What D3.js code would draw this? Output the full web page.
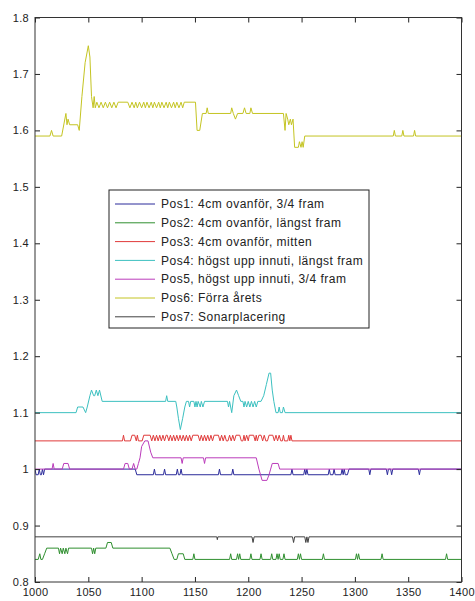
<!DOCTYPE html>
<html>
<head>
<meta charset="utf-8">
<script src="https://cdn.jsdelivr.net/npm/d3@7"></script>
<style>
  html, body { margin: 0; padding: 0; background: #fff; }
  svg { display: block; }
  text { font-family: "Liberation Sans", Arial, Helvetica, sans-serif; }
</style>
</head>
<body>
<svg id="chart" width="475" height="601"></svg>
<script>
// ---- series values: [x, value] breakpoints of each measured position ----
const pos1 = [[1000,1.0],[1001,0.99],[1003,0.99],[1004,1.0],[1005,0.99],[1006,0.99],[1007,1.0],[1008,0.99],[1009,1.0],[1094,1.0],[1095.5,0.99],[1111,0.99],[1112,1.0],[1113,0.99],[1120.5,0.99],[1121.5,1.0],[1122.5,0.99],[1132.5,0.99],[1133.5,1.0],[1134.5,0.99],[1136,0.99],[1137,1.0],[1138,0.99],[1172,0.99],[1173,1.0],[1174,0.99],[1184.5,0.99],[1185.5,1.0],[1186.5,0.99],[1240,0.99],[1241,1.0],[1242,0.99],[1252,0.99],[1253,1.0],[1254,0.99],[1255,1.0],[1256,0.99],[1275,0.99],[1276,1.0],[1277,0.99],[1279.5,0.99],[1280.5,1.0],[1281.5,0.99],[1287,0.99],[1288,1.0],[1289,0.99],[1290,1.0],[1291,0.99],[1293,0.99],[1294.5,1.0],[1313,1.0],[1314,0.99],[1315,1.0],[1329.5,1.0],[1330.5,0.99],[1331.5,1.0],[1333.5,1.0],[1334.5,0.99],[1335.5,1.0],[1359.5,1.0],[1360.5,0.99],[1361.5,1.0],[1400,1.0]];

const pos2 = [[1000,0.84],[1003,0.84],[1004.5,0.85],[1005.5,0.84],[1007,0.84],[1009,0.85],[1011,0.86],[1022,0.86],[1023,0.85],[1024,0.86],[1025.5,0.85],[1026.5,0.86],[1028,0.85],[1029,0.86],[1030.5,0.85],[1031.5,0.86],[1053,0.86],[1054,0.85],[1055,0.86],[1056,0.85],[1057,0.86],[1066.5,0.86],[1068,0.87],[1071.5,0.87],[1073,0.86],[1126.5,0.86],[1128.5,0.85],[1130.5,0.84],[1133,0.84],[1134.5,0.85],[1139,0.85],[1140.5,0.84],[1148,0.84],[1149,0.85],[1150,0.84],[1182.5,0.84],[1183.5,0.85],[1184.5,0.84],[1189,0.84],[1190,0.85],[1191,0.84],[1192,0.85],[1193,0.84],[1201.5,0.84],[1202.5,0.85],[1203.5,0.84],[1211,0.84],[1212,0.85],[1213,0.84],[1221,0.84],[1222,0.85],[1223,0.84],[1226,0.84],[1227,0.85],[1228,0.84],[1229,0.85],[1230,0.84],[1232.5,0.84],[1233.5,0.85],[1234.5,0.84],[1246,0.84],[1247,0.85],[1248,0.84],[1249,0.85],[1250,0.84],[1269.5,0.84],[1270.5,0.85],[1271.5,0.84],[1300.5,0.84],[1301.5,0.85],[1302.5,0.84],[1303.5,0.85],[1304.5,0.84],[1324.5,0.84],[1325.5,0.85],[1326.5,0.84],[1385,0.84],[1386,0.85],[1387,0.84],[1400,0.84]];

const pos3 = [[1000,1.05],[1082,1.05],[1083,1.06],[1084,1.05],[1089.5,1.05],[1091,1.06],[1093.5,1.06],[1095,1.05],[1096,1.06],[1097,1.05],[1100.5,1.05],[1102,1.06],[1108,1.06],[1109.5,1.05],[1111,1.06],[1112.5,1.05],[1114,1.06],[1115.5,1.05],[1117,1.06],[1118.5,1.05],[1120,1.06],[1121.5,1.05],[1123,1.06],[1124,1.06],[1125.5,1.05],[1127,1.06],[1128.5,1.05],[1130,1.06],[1131.5,1.05],[1133,1.06],[1134.5,1.05],[1136,1.06],[1137.5,1.05],[1139,1.06],[1140.5,1.05],[1142,1.06],[1143.5,1.05],[1145,1.06],[1146.5,1.05],[1148,1.06],[1153,1.06],[1154.5,1.05],[1156,1.06],[1157.5,1.05],[1159,1.06],[1160.5,1.05],[1162,1.06],[1163.5,1.05],[1165,1.06],[1166.5,1.05],[1168,1.06],[1172,1.06],[1173.5,1.05],[1175,1.06],[1176.5,1.05],[1178,1.06],[1179.5,1.05],[1181,1.05],[1182.5,1.06],[1184,1.05],[1185.5,1.06],[1187,1.05],[1188.5,1.06],[1192,1.06],[1193.5,1.05],[1195,1.05],[1196,1.06],[1197,1.05],[1198.5,1.06],[1200,1.05],[1201,1.06],[1205,1.06],[1206.5,1.05],[1207.5,1.06],[1208.5,1.05],[1210,1.06],[1212,1.06],[1213.5,1.05],[1215,1.06],[1216.5,1.05],[1218,1.05],[1219.5,1.06],[1223,1.06],[1224.5,1.05],[1226,1.06],[1227.5,1.05],[1229,1.06],[1230.5,1.05],[1232,1.05],[1233,1.06],[1234,1.05],[1237,1.05],[1238,1.06],[1239,1.05],[1240,1.06],[1241,1.05],[1400,1.05]];

const pos4 = [[1000,1.1],[1038.5,1.1],[1040,1.11],[1045,1.11],[1047.5,1.1],[1049,1.11],[1051.5,1.13],[1053,1.14],[1055,1.13],[1056,1.13],[1057.5,1.14],[1059,1.13],[1060.5,1.14],[1063,1.12],[1122.5,1.12],[1123.5,1.13],[1124.5,1.12],[1132,1.12],[1133,1.11],[1134.5,1.09],[1136.3,1.07],[1138.5,1.09],[1140.5,1.11],[1142,1.12],[1144,1.12],[1145,1.11],[1146,1.12],[1149,1.12],[1150,1.11],[1151,1.12],[1152,1.11],[1153,1.12],[1155,1.11],[1156,1.12],[1157.5,1.11],[1159,1.12],[1180.5,1.12],[1181.5,1.11],[1182.5,1.12],[1184.5,1.1],[1186.5,1.13],[1189,1.14],[1191,1.13],[1193,1.12],[1195,1.12],[1196,1.11],[1197,1.12],[1198.5,1.11],[1200,1.12],[1201.5,1.11],[1203,1.12],[1204.5,1.11],[1206,1.12],[1207.5,1.11],[1209,1.12],[1212,1.12],[1214.5,1.13],[1217,1.15],[1219.5,1.17],[1221,1.17],[1222.5,1.14],[1224,1.12],[1226,1.1],[1228,1.1],[1229,1.11],[1230,1.1],[1232,1.1],[1233,1.11],[1234.5,1.1],[1400,1.1]];

const pos5 = [[1000,1.0],[1016,1.0],[1017,1.01],[1018,1.0],[1025.5,1.0],[1027,1.01],[1031,1.01],[1032.5,1.0],[1083,1.0],[1084.5,1.01],[1087,1.01],[1088.5,1.0],[1091,1.0],[1092.5,1.01],[1094,1.0],[1095.5,1.0],[1097,1.01],[1098.5,1.02],[1100,1.04],[1103,1.05],[1106,1.05],[1108.5,1.03],[1110.5,1.02],[1137,1.02],[1138,1.01],[1139,1.02],[1158,1.02],[1159,1.01],[1160,1.02],[1207.5,1.02],[1210,1.0],[1211.5,0.99],[1213,0.98],[1217.5,0.98],[1219.5,0.99],[1221,1.0],[1222.5,1.01],[1228,1.01],[1229.5,1.0],[1400,1.0]];

const pos6 = [[1000,1.59],[1014,1.59],[1015.5,1.6],[1017,1.59],[1025,1.59],[1029,1.63],[1030,1.61],[1031,1.62],[1032.5,1.61],[1040,1.61],[1041.5,1.6],[1044,1.66],[1047,1.72],[1050,1.75],[1051.5,1.73],[1053,1.66],[1054.5,1.64],[1055.5,1.66],[1056.5,1.64],[1058,1.65],[1060,1.64],[1062,1.65],[1064,1.64],[1066,1.65],[1068,1.64],[1070,1.65],[1072,1.64],[1074,1.65],[1076,1.64],[1078,1.65],[1087,1.65],[1089,1.64],[1091,1.65],[1093,1.64],[1094.5,1.65],[1096,1.64],[1098,1.65],[1100,1.64],[1102,1.65],[1103.5,1.64],[1105,1.65],[1107,1.64],[1109,1.65],[1110.5,1.64],[1112,1.65],[1114,1.64],[1116,1.65],[1117.5,1.64],[1119,1.65],[1121,1.64],[1123,1.65],[1124.5,1.64],[1126,1.65],[1128,1.64],[1130,1.65],[1131.5,1.64],[1133,1.65],[1135,1.64],[1137,1.65],[1138.5,1.64],[1140,1.65],[1150.5,1.65],[1152,1.6],[1154.5,1.6],[1157,1.63],[1160.5,1.63],[1161.5,1.64],[1162.5,1.63],[1183.5,1.63],[1184.5,1.64],[1186,1.63],[1188,1.62],[1190,1.63],[1195,1.63],[1196.5,1.64],[1198,1.63],[1201.5,1.63],[1202.5,1.64],[1204,1.63],[1233,1.63],[1234.5,1.6],[1235.5,1.63],[1237,1.62],[1238,1.61],[1239.5,1.62],[1240.5,1.61],[1242,1.62],[1243.5,1.57],[1247,1.57],[1248,1.58],[1249.5,1.57],[1250.5,1.58],[1251.5,1.57],[1253,1.59],[1336,1.59],[1337,1.6],[1338,1.59],[1344,1.59],[1345,1.6],[1346,1.59],[1355,1.59],[1356,1.6],[1357,1.59],[1400,1.59]];

const pos7 = [[1000,0.88],[1170.5,0.88],[1171,0.875],[1171.5,0.88],[1203.5,0.88],[1204.5,0.87],[1205.5,0.88],[1241.5,0.88],[1242.5,0.87],[1243.5,0.88],[1253,0.88],[1254,0.87],[1255,0.88],[1256,0.87],[1257,0.88],[1400,0.88]];

// ---- legend labels and tick values ----
const seriesNames = [
  "Pos1: 4cm ovanför, 3/4 fram",
  "Pos2: 4cm ovanför, längst fram",
  "Pos3: 4cm ovanför, mitten",
  "Pos4: högst upp innuti, längst fram",
  "Pos5, högst upp innuti, 3/4 fram",
  "Pos6: Förra årets",
  "Pos7: Sonarplacering"
];
const seriesColors = ["#2a2a9a", "#2f8f2f", "#e03a3a", "#3cc0c0", "#bb3cbb", "#c4c422", "#404040"];
const xTicks = [1000, 1050, 1100, 1150, 1200, 1250, 1300, 1350, 1400];
const yTicks = [0.8, 0.9, 1.0, 1.1, 1.2, 1.3, 1.4, 1.5, 1.6, 1.7, 1.8];

const seriesData = [pos1, pos2, pos3, pos4, pos5, pos6, pos7];

// ---- layout ----
const svg = d3.select("#chart");
const plot = { left: 35, right: 461.5, top: 17.5, bottom: 582 };

const x = d3.scaleLinear().domain([1000, 1400]).range([plot.left, plot.right]);
const y = d3.scaleLinear().domain([0.8, 1.8]).range([plot.bottom, plot.top]);

svg.append("rect").attr("width", 475).attr("height", 601).attr("fill", "#fff");

svg.append("defs").append("clipPath").attr("id", "plotclip")
  .append("rect")
  .attr("x", plot.left).attr("y", plot.top - 1)
  .attr("width", plot.right - plot.left).attr("height", plot.bottom - plot.top + 2);

// ---- series lines ----
const line = d3.line().x(d => x(d[0])).y(d => y(d[1]));
const lines = svg.append("g").attr("clip-path", "url(#plotclip)");
seriesData.forEach((s, i) => {
  lines.append("path")
    .datum(s)
    .attr("fill", "none")
    .attr("stroke", seriesColors[i])
    .attr("stroke-width", 1)
    .attr("stroke-linejoin", "round")
    .attr("d", line);
});

// ---- axes: inward ticks on all four sides ----
const fmt = d => d3.format("")(+d.toFixed(1));
const axisStyle = g => {
  g.select(".domain").remove();
  g.selectAll(".tick line").attr("stroke", "#222");
  g.selectAll(".tick text").attr("fill", "#222").style("font-size", "11px")
    .style("letter-spacing", "0.3px")
    .style("font-family", "'Liberation Sans', Arial, Helvetica, sans-serif");
};

svg.append("g").attr("transform", `translate(${plot.left},0)`)
  .call(d3.axisLeft(y).tickValues(yTicks).tickSize(-5).tickPadding(6).tickFormat(fmt))
  .call(axisStyle);
svg.append("g").attr("transform", `translate(${plot.right},0)`)
  .call(d3.axisRight(y).tickValues(yTicks).tickSize(-5).tickFormat(""))
  .call(axisStyle);
svg.append("g").attr("transform", `translate(0,${plot.bottom})`)
  .call(d3.axisBottom(x).tickValues(xTicks).tickSize(-5).tickPadding(6).tickFormat(d3.format("d")))
  .call(axisStyle);
svg.append("g").attr("transform", `translate(0,${plot.top})`)
  .call(d3.axisTop(x).tickValues(xTicks).tickSize(-5).tickFormat(""))
  .call(axisStyle);

// plot frame
svg.append("rect")
  .attr("x", plot.left).attr("y", plot.top)
  .attr("width", plot.right - plot.left).attr("height", plot.bottom - plot.top)
  .attr("fill", "none").attr("stroke", "#333").attr("stroke-width", 1);

// ---- legend ----
const legend = svg.append("g");
legend.append("rect")
  .attr("x", 109).attr("y", 190).attr("width", 260).attr("height", 138)
  .attr("fill", "#fff").attr("stroke", "#222").attr("stroke-width", 1);
seriesNames.forEach((name, i) => {
  const cy = 204 + i * 18.8;
  legend.append("line")
    .attr("x1", 115).attr("x2", 155).attr("y1", cy).attr("y2", cy)
    .attr("stroke", seriesColors[i]).attr("stroke-width", 1);
  legend.append("text")
    .attr("x", 161).attr("y", cy).attr("dy", "0.35em")
    .attr("fill", "#222").style("font-size", "12px")
    .style("letter-spacing", "0.5px")
    .text(name);
});
</script>
</body>
</html>
